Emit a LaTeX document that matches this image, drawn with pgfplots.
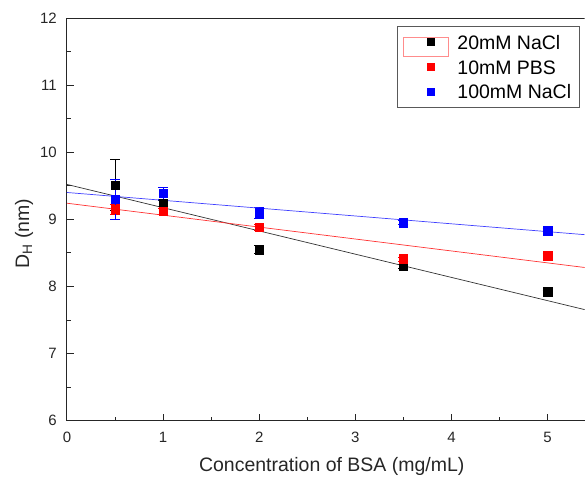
\documentclass[border=0pt]{standalone}
\usepackage{fontspec}
\setmainfont{Liberation Sans}
\usepackage{pgfplots}
\pgfplotsset{compat=1.18}
\begin{document}
\begin{tikzpicture}
\begin{axis}[
  width=518pt, height=403pt, scale only axis,
  xmin=0, xmax=5.385, ymin=6, ymax=12,
  axis lines*=left,
  axis line style={line width=0.9pt, black!85},
  xtick={0,1,2,3,4,5}, ytick={6,7,8,9,10,11,12},
  minor x tick num=1, minor y tick num=1,
  tick align=inside,
  major tick length=7pt, minor tick length=4pt,
  tick style={line width=0.9pt, black!85},
  /pgf/number format/assume math mode=true,
  ticklabel style={font=\fontsize{15}{18}\selectfont, black!85},
  xticklabel style={anchor=center, yshift=-17pt},
  yticklabel style={anchor=east, inner sep=0pt, xshift=-10pt},
  xlabel={Concentration of BSA (mg/mL)},
  ylabel={D$_{\mathrm{H}}$ (nm)},
  label style={font=\fontsize{19.5}{23}\selectfont, black!85},
  xlabel style={at={(axis description cs:0.5116,-0.114)}, anchor=center},
  ylabel style={at={(axis description cs:-0.083,0.464)}, anchor=center},
  legend style={at={(rel axis cs:0.9903,0.9801)}, anchor=north east,
    draw=black!65, line width=0.8pt, font=\fontsize{19.5}{23}\selectfont,
    inner xsep=8pt, inner ysep=8.5pt, row sep=10pt,
    nodes={inner sep=0pt, text height=14pt, text depth=0pt},
    cells={anchor=west}},
  legend cell align=left,
  legend image code/.code={\path (0pt,-7pt) (51pt,7pt);\path[#1, mark size=3.5pt] plot coordinates {(24.5pt,0pt)};},
  clip=true,
]
% 20mM NaCl
\addplot[only marks, mark=square*, mark size=4.3pt, black,
  error bars/.cd, y dir=both, y explicit, error mark options={rotate=90, mark size=5pt, black, line width=0.6pt},
  error bar style={line width=0.6pt, black}]
  coordinates {(0.5,9.51) +- (0,0.38) (1,9.24) +- (0,0.05) (2,8.55) +- (0,0.06) (3.5,8.30) +- (0,0.03) (5,7.92) +- (0,0.03)};
\addlegendentry{20mM NaCl}
% 10mM PBS
\addplot[only marks, mark=square*, mark size=4.3pt, red,
  error bars/.cd, y dir=both, y explicit, error mark options={rotate=90, mark size=5pt, red, line width=0.6pt},
  error bar style={line width=0.6pt, red}]
  coordinates {(0.5,9.15) +- (0,0.08) (1,9.12) +- (0,0.05) (2,8.88) +- (0,0.04) (3.5,8.41) +- (0,0.03) (5,8.46) +- (0,0.03)};
\addlegendentry{10mM PBS}
% 100mM NaCl
\addplot[only marks, mark=square*, mark size=4.3pt, blue,
  error bars/.cd, y dir=both, y explicit, error mark options={rotate=90, mark size=5pt, blue, line width=0.6pt},
  error bar style={line width=0.6pt, blue}]
  coordinates {(0.5,9.30) +- (0,0.30) (1,9.39) +- (0,0.09) (2,9.10) +- (0,0.08) (3.5,8.95) +- (0,0.03) (5,8.83) +- (0,0.03)};
\addlegendentry{100mM NaCl\hspace{5pt}}
% linear fits
\addplot[black!80, line width=0.7pt, forget plot] coordinates {(0,9.52) (5.4,7.65)};
\addplot[red!80, line width=0.7pt, forget plot] coordinates {(0,9.24) (5.4,8.28)};
\addplot[blue!75, line width=0.7pt, forget plot] coordinates {(0,9.40) (5.4,8.77)};
\draw[black!85, line width=0.9pt] (rel axis cs:0,1) -- (rel axis cs:1,1);
\coordinate (r1) at (rel axis cs:0.6506,0.9529);
\coordinate (r2) at (rel axis cs:0.7375,0.9057);
\end{axis}
\draw[red!45, line width=0.7pt] (r1) rectangle (r2);
\path (current axis.south west) ++(-67pt,-56pt) coordinate (bl);
\path (current axis.north east) ++(0pt,18pt) coordinate (tr);
\useasboundingbox (bl) rectangle (tr);
\end{tikzpicture}
\end{document}
